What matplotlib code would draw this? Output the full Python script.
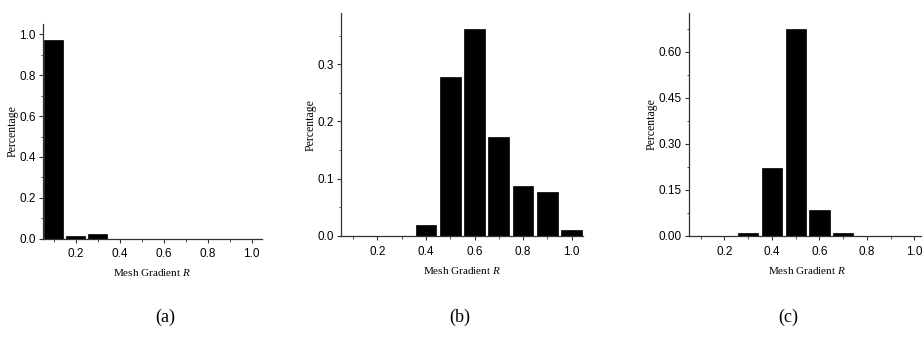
import matplotlib

matplotlib.use("Agg")
import matplotlib.pyplot as plt
from matplotlib.ticker import MultipleLocator, FormatStrFormatter

# italic R in the axis label should be serif like the rest of the label
plt.rcParams["mathtext.fontset"] = "custom"
plt.rcParams["mathtext.it"] = "Liberation Serif:italic"
plt.rcParams["mathtext.rm"] = "Liberation Serif"

# bin centres of the mesh gradient R histogram
bins = [0.1, 0.2, 0.3, 0.4, 0.5, 0.6, 0.7, 0.8, 0.9, 1.0]

pct_a = [0.972, 0.014, 0.022, 0, 0, 0, 0, 0, 0, 0]
pct_b = [0, 0, 0, 0.020, 0.277, 0.362, 0.173, 0.087, 0.077, 0.010]
pct_c = [0, 0, 0.009, 0.220, 0.675, 0.086, 0.009, 0, 0, 0]

panel_labels = ["(a)", "(b)", "(c)"]

TICK_FONT = "Liberation Sans"
LABEL_FONT = "Liberation Serif"

fig = plt.figure(figsize=(9.22, 3.41), dpi=100)

panels = [
    # values, axes rect, ylim, major y, minor y, y format, label x
    (pct_a, [0.0463, 0.300, 0.2375, 0.629], 1.05, 0.2, 0.1, "%.1f", 0.179),
    (pct_b, [0.3698, 0.308, 0.2621, 0.653], 0.389, 0.1, 0.05, "%.1f", 0.499),
    (pct_c, [0.7470, 0.308, 0.2564, 0.655], 0.727, 0.15, 0.075, "%.2f", 0.855),
]

for (vals, rect, ytop, ymaj, ymin, yfmt, lx), lab in zip(panels, panel_labels):
    ax = fig.add_axes(rect)
    ax.bar(bins, vals, width=0.085, color="black", edgecolor="black", linewidth=0.5)
    ax.set_xlim(0.05, 1.045)
    ax.set_ylim(0, ytop)

    ax.spines["top"].set_visible(False)
    ax.spines["right"].set_visible(False)
    for s in ("left", "bottom"):
        ax.spines[s].set_color("#333333")
        ax.spines[s].set_linewidth(0.9)

    ax.xaxis.set_major_locator(MultipleLocator(0.2))
    ax.xaxis.set_minor_locator(MultipleLocator(0.1))
    ax.xaxis.set_major_formatter(FormatStrFormatter("%.1f"))
    ax.yaxis.set_major_locator(MultipleLocator(ymaj))
    ax.yaxis.set_minor_locator(MultipleLocator(ymin))
    ax.yaxis.set_major_formatter(FormatStrFormatter(yfmt))

    ax.tick_params(which="major", direction="out", length=3, width=0.8,
                   color="#333333", labelsize=8.5, pad=2)
    ax.tick_params(axis="x", which="major", pad=4)
    ax.tick_params(which="minor", direction="out", length=1.8, width=0.6,
                   color="#333333")
    for t in ax.get_xticklabels() + ax.get_yticklabels():
        t.set_fontfamily(TICK_FONT)

    ax.set_xlabel("Mesh Gradient $\\it{R}$", fontfamily=LABEL_FONT, fontsize=8,
                  labelpad=5)
    ax.set_ylabel("Percentage", fontfamily=LABEL_FONT, fontsize=8.5, labelpad=0.5)

    fig.text(lx, 0.07, lab, fontfamily=LABEL_FONT, fontsize=13,
             ha="center", va="center")

fig.savefig("out.png", dpi=100)
